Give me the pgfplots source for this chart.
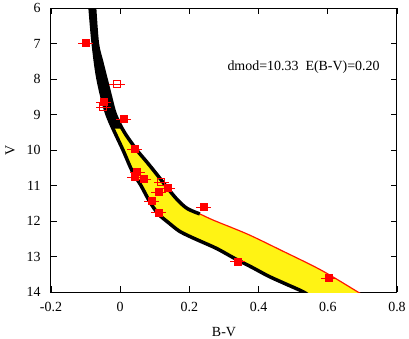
\documentclass[border=0pt]{standalone}
\usepackage{pgfplots}
\pgfplotsset{compat=1.18}
\usepackage{fontspec}
\setmainfont{Liberation Serif}

\begin{document}
\begin{tikzpicture}
\begin{axis}[
    scale only axis,
    width=346bp, height=284bp,
    xmin=-0.2, xmax=0.8,
    ymin=6, ymax=14,
    y dir=reverse,
    xtick={-0.2,0,0.2,0.4,0.6,0.8},
    xticklabels={-0.2,0,0.2,0.4,0.6,0.8},
    ytick={6,7,8,9,10,11,12,13,14},
    yticklabels={6,7,8,9,10,11,12,13,14},
    tick align=inside,
    major tick length=6bp,
    axis line style={line width=1bp},
    tick style={line width=0.8bp, black},
    font=\fontsize{14}{16}\selectfont,
    xticklabel style={yshift=-7bp},
    yticklabel style={xshift=-7bp},
    xlabel={B-V}, ylabel={V},
    xlabel style={at={(axis description cs:0.5,-0.141)}, anchor=center},
    ylabel style={at={(axis description cs:-0.118,0.5)}, anchor=center},
]

% isochrone band (filled between blue and red edge)
\addplot[fill=yellow!92!white, draw=none] coordinates {
    (-0.087,6.0) (-0.078,7.0) (-0.064,8.0) (-0.038,9.0) (0.008,10.0)
    (0.035,10.6) (0.06,11.0) (0.085,11.45) (0.11,11.8) (0.14,12.05)
    (0.17,12.28) (0.20,12.43) (0.232,12.57) (0.28,12.78) (0.33,13.05)
    (0.38,13.30) (0.43,13.56) (0.48,13.78) (0.53,14.0) (0.56,14.2)
    (0.72,14.2) (0.687,14.0) (0.58,13.38) (0.464,12.82) (0.368,12.37)
    (0.27,11.98) (0.23,11.8) (0.194,11.65) (0.165,11.4) (0.135,11.05)
    (0.107,10.7) (0.078,10.35) (0.048,10.0) (0.012,9.5) (-0.014,9.0)
    (-0.028,8.5) (-0.041,8.0) (-0.054,7.5) (-0.066,7.0) (-0.074,6.0)
    (-0.087,6.0)
};
% upper part of the band is dark
\addplot[fill=black, draw=none] coordinates {
    (-0.087,5.9) (-0.078,7.0) (-0.064,8.0) (-0.038,9.0) (-0.02,9.4)
    (0.005,9.4) (-0.014,9.0) (-0.028,8.5) (-0.041,8.0) (-0.054,7.5)
    (-0.066,7.0) (-0.074,5.9) (-0.087,5.9)
};

% red side, lower part
\addplot[color=red!80!orange, line width=1.2bp, smooth] coordinates {
    (0.194,11.65) (0.23,11.8) (0.27,11.98) (0.368,12.37) (0.464,12.82)
    (0.58,13.38) (0.687,14.0) (0.72,14.2)
};
% red side, black upper part
\addplot[black, line width=3.5bp, smooth] coordinates {
    (-0.074,5.9) (-0.074,6.0) (-0.066,7.0) (-0.054,7.5) (-0.041,8.0)
    (-0.028,8.5) (-0.014,9.0) (0.012,9.5) (0.048,10.0) (0.078,10.35)
    (0.107,10.7) (0.135,11.05) (0.165,11.4) (0.194,11.65) (0.23,11.8)
};
% blue side
\addplot[black, line width=3.5bp, smooth] coordinates {
    (-0.087,5.9) (-0.087,6.0) (-0.078,7.0) (-0.064,8.0) (-0.038,9.0)
    (0.008,10.0) (0.035,10.6) (0.06,11.0) (0.085,11.45) (0.11,11.8)
    (0.14,12.05) (0.17,12.28) (0.20,12.43) (0.232,12.57) (0.28,12.78)
    (0.33,13.05) (0.38,13.30) (0.43,13.56) (0.48,13.78) (0.53,14.0)
    (0.56,14.2)
};

% observed stars, filled
\addplot[red, only marks, mark=square*, mark size=3.5bp,
    error bars/.cd, x dir=both, x explicit, error mark=none,
    error bar style={red, line width=0.7bp}]
    coordinates {
    (-0.101,6.99) +- (0.022,0)
    (-0.049,8.65) +- (0.022,0)
    (0.009,9.13) +- (0.022,0)
    (0.041,9.97) +- (0.022,0)
    (0.049,10.62) +- (0.022,0)
    (0.041,10.76) +- (0.022,0)
    (0.067,10.82) +- (0.022,0)
    (0.110,11.18) +- (0.022,0)
    (0.136,11.07) +- (0.022,0)
    (0.090,11.44) +- (0.022,0)
    (0.110,11.77) +- (0.022,0)
    (0.241,11.61) +- (0.022,0)
    (0.339,13.15) +- (0.022,0)
    (0.603,13.61) +- (0.022,0)
};
% observed stars, open
\addplot[red, only marks, mark=square, mark size=3.5bp,
    mark options={line width=0.8bp},
    error bars/.cd, x dir=both, x explicit, error mark=none,
    error bar style={red, line width=0.7bp}]
    coordinates {
    (-0.009,8.14) +- (0.022,0)
    (-0.049,8.79) +- (0.022,0)
    (0.119,10.90) +- (0.022,0)
};

\node[anchor=west, font=\fontsize{14}{16}\selectfont] at (axis cs:0.30,7.66)
    {dmod=10.33\ \ E(B-V)=0.20};
\end{axis}
\pgfresetboundingbox
\path (-51bp,-47bp) rectangle (358bp,292bp);
\end{tikzpicture}
\end{document}
